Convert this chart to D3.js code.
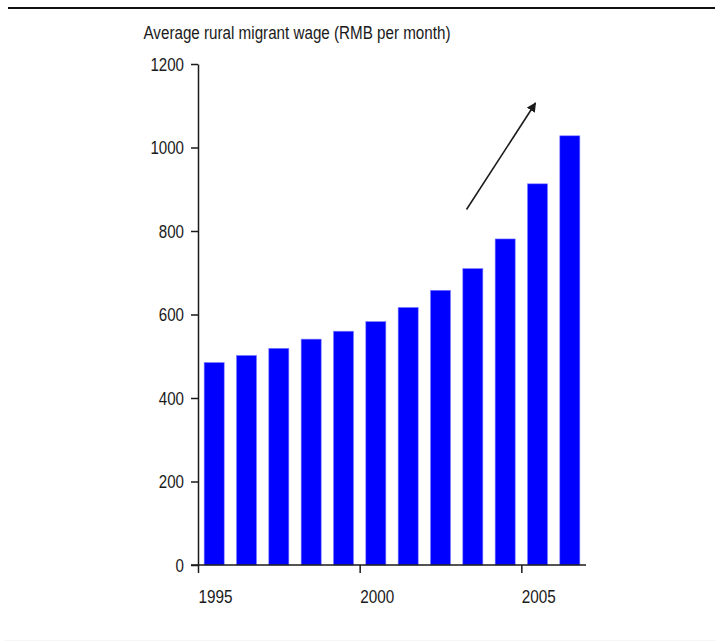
<!DOCTYPE html>
<html>
<head>
<meta charset="utf-8">
<script src="https://cdn.jsdelivr.net/npm/d3@7"></script>
<style>
  html, body { margin: 0; padding: 0; background: #ffffff; }
  svg { display: block; }
  text { font-family: "Liberation Sans", Arial, sans-serif; fill: #1a1a1a; }
</style>
</head>
<body>
<svg id="chart" width="715" height="641"></svg>
<script>
// ---- data ----
const years = [1995, 1996, 1997, 1998, 1999, 2000, 2001, 2002, 2003, 2004, 2005, 2006];
const wages = [485, 502, 519, 541, 560, 583, 617, 658, 710, 781, 913, 1028];
const yTicks = [0, 200, 400, 600, 800, 1000, 1200];
const xTickYears = [1995, 2000, 2005];
const xTickLabels = ["1995", "2000", "2005"];
const yTitle = "Average rural migrant wage (RMB per month)";

// ---- layout ----
const svg = d3.select("#chart");
const x0 = 198, x1 = 586, yTop = 64, yBot = 565;

const xBand = d3.scaleBand().domain(years).range([x0, x1])
  .paddingInner(0.38).paddingOuter(0.19);
const xYear = d3.scaleLinear().domain([1995, 2007]).range([x0, x1]);
const y = d3.scaleLinear().domain([0, 1200]).range([yBot, yTop]);

// top rule
svg.append("line").attr("x1", 8).attr("x2", 715).attr("y1", 8).attr("y2", 8)
  .attr("stroke", "#111").attr("stroke-width", 2.2);
// faint bottom rule
svg.append("line").attr("x1", 4).attr("x2", 715).attr("y1", 640.5).attr("y2", 640.5)
  .attr("stroke", "#f5f5f5").attr("stroke-width", 1);

// bars
svg.append("g").selectAll("rect").data(years).join("rect")
  .attr("x", d => xBand(d))
  .attr("width", xBand.bandwidth())
  .attr("y", (d, i) => y(wages[i]))
  .attr("height", (d, i) => y(0) - y(wages[i]))
  .attr("fill", "#0000ff")
  .attr("stroke", "#8080ff").attr("stroke-width", 0.6);

// y axis
const yAxis = svg.append("g").attr("transform", `translate(${x0},0)`)
  .call(d3.axisLeft(y).tickValues(yTicks).tickFormat(d3.format("d"))
    .tickSize(7).tickPadding(7).tickSizeOuter(0));
yAxis.select(".domain").attr("stroke", "#1a1a1a").attr("stroke-width", 1.5);
yAxis.selectAll(".tick line").attr("stroke", "#1a1a1a").attr("stroke-width", 1.5);
yAxis.selectAll(".tick text")
  .style("font-size", "18px")
  .style("font-family", "'Liberation Sans', Arial, sans-serif")
  .attr("fill", "#1a1a1a")
  .attr("dy", "0.36em")
  .attr("textLength", d => String(d).length * 8.4)
  .attr("lengthAdjust", "spacingAndGlyphs");

// x axis
const xAxis = svg.append("g").attr("transform", `translate(0,${yBot})`)
  .call(d3.axisBottom(xYear).tickValues(xTickYears)
    .tickFormat((d, i) => xTickLabels[i]).tickSize(8).tickSizeOuter(0));
xAxis.select(".domain").attr("stroke", "#1a1a1a").attr("stroke-width", 1.5)
  .attr("d", `M${x0 - 7},0H${x1}`);
xAxis.selectAll(".tick line").attr("stroke", "#1a1a1a").attr("stroke-width", 1.5);
xAxis.selectAll(".tick text")
  .style("font-size", "18px")
  .style("font-family", "'Liberation Sans', Arial, sans-serif")
  .attr("fill", "#1a1a1a")
  .attr("text-anchor", "start")
  .attr("y", 37.5)
  .attr("dy", 0)
  .attr("textLength", 34)
  .attr("lengthAdjust", "spacingAndGlyphs");

// axis title
svg.append("text")
  .attr("x", 143.5).attr("y", 38.5)
  .style("font-size", "17.5px")
  .attr("textLength", 307)
  .attr("lengthAdjust", "spacingAndGlyphs")
  .text(yTitle);

// arrow
const defs = svg.append("defs");
defs.append("marker").attr("id", "ah").attr("viewBox", "0 0 10 10")
  .attr("refX", 9).attr("refY", 5).attr("markerWidth", 6).attr("markerHeight", 6)
  .attr("orient", "auto")
  .append("path").attr("d", "M0,0L10,5L0,10z").attr("fill", "#1a1a1a");
svg.append("line")
  .attr("x1", 466.5).attr("y1", 209.5).attr("x2", 535.5).attr("y2", 103)
  .attr("stroke", "#1a1a1a").attr("stroke-width", 1.6)
  .attr("marker-end", "url(#ah)");
</script>
</body>
</html>
